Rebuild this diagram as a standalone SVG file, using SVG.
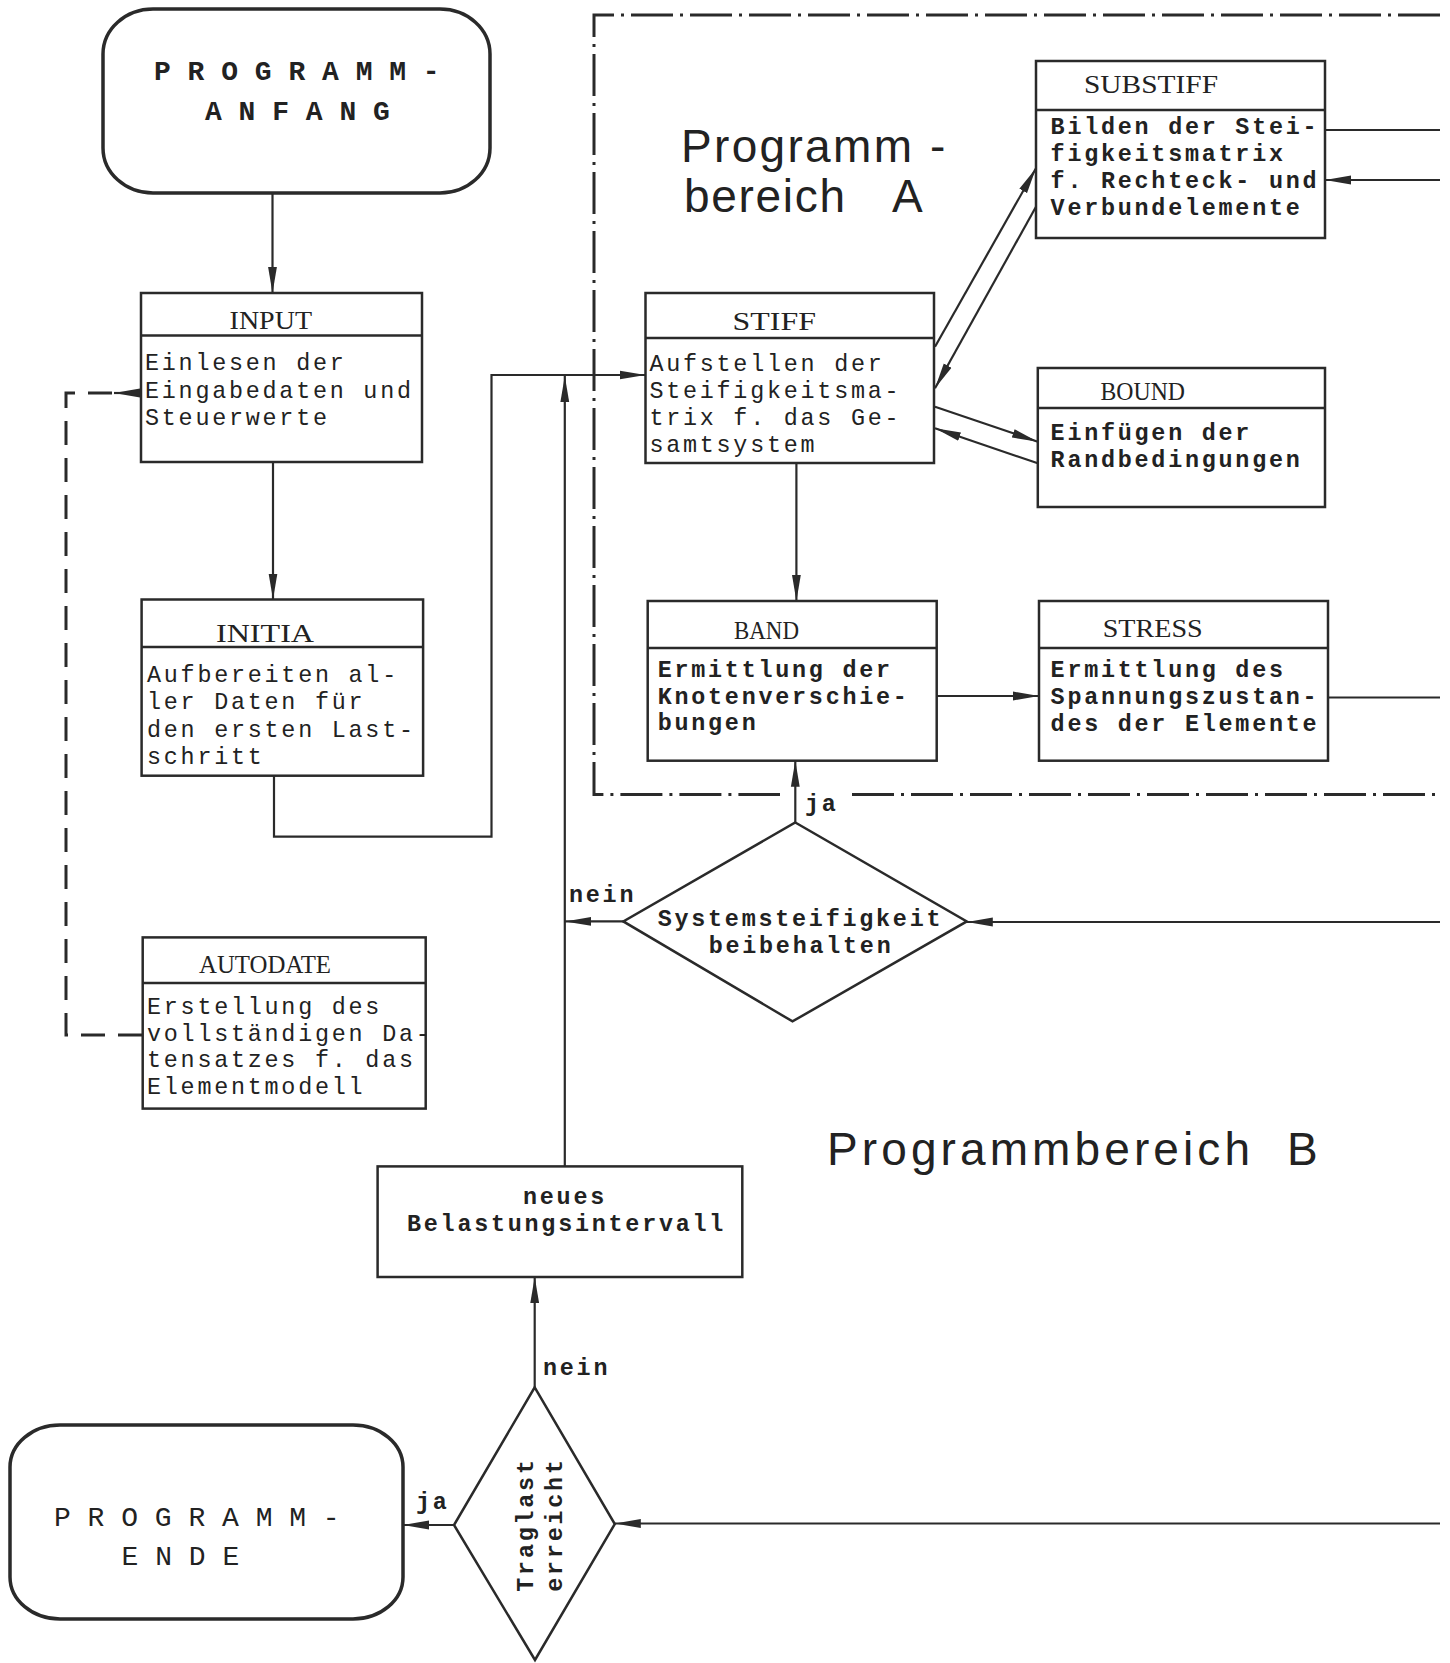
<svg xmlns="http://www.w3.org/2000/svg" width="1450" height="1663" viewBox="0 0 1450 1663">
<defs>
<marker id="ah" viewBox="0 0 26 10" refX="26" refY="5" markerWidth="26" markerHeight="10" markerUnits="userSpaceOnUse" orient="auto">
<path d="M0,0.6 L26,5 L0,9.4 Z" fill="#2a2a2a"/>
</marker>
<style>
.box{fill:#fff;stroke:#2a2a2a;stroke-width:2.5}
.term{fill:#fff;stroke:#2a2a2a;stroke-width:3.5}
.div{stroke:#2a2a2a;stroke-width:2.5}
.ln{fill:none;stroke:#2a2a2a;stroke-width:2.2}
.dash{fill:none;stroke:#2a2a2a;stroke-width:3;stroke-dasharray:24 13}
.dd{fill:none;stroke:#2a2a2a;stroke-width:3;stroke-dasharray:42 7 3 7}
.t{font-family:"Liberation Mono","Courier New",monospace;font-size:23.4px;letter-spacing:2.76px;fill:#222}
.tp{font-family:"Liberation Mono","Courier New",monospace;font-size:28px;fill:#222}
.b{font-weight:bold}
.ttl{font-family:"Liberation Serif","Times New Roman",serif;font-size:26px;fill:#222}
.big{font-family:"Liberation Sans",Arial,sans-serif;font-size:46px;fill:#222}
</style>
</defs>
<rect width="1450" height="1663" fill="#fff"/>

<g id="connectors">
<path class="dd" d="M1440,15 H594 V794.6 H780"/>
<path class="dd" d="M852,794.6 H1440"/>
<path class="ln" d="M272.5,193 V293" marker-end="url(#ah)"/>
<path class="ln" d="M273,462 V599.5" marker-end="url(#ah)"/>
<path class="ln" d="M274,775.7 V836.6 H491.5 V375 H645.5" marker-end="url(#ah)"/>
<path class="ln" d="M564.8,1166.4 V376" marker-end="url(#ah)"/>
<path class="dash" d="M112,393 H66 V1035 H142.7"/>
<path class="ln" d="M141,393 H114" marker-end="url(#ah)"/>
<path class="ln" d="M935,346.7 L1036,168.3" marker-end="url(#ah)"/>
<path class="ln" d="M1036,206.7 L935,388.3" marker-end="url(#ah)"/>
<path class="ln" d="M935,406.7 L1037.8,441.7" marker-end="url(#ah)"/>
<path class="ln" d="M1037.8,463.3 L935,428.3" marker-end="url(#ah)"/>
<path class="ln" d="M1325,130 H1440"/>
<path class="ln" d="M1440,180 H1325" marker-end="url(#ah)"/>
<path class="ln" d="M796.4,463 V601" marker-end="url(#ah)"/>
<path class="ln" d="M936.8,696 H1039" marker-end="url(#ah)"/>
<path class="ln" d="M1328,697.5 H1440"/>
<path class="ln" d="M795.3,822.5 V760.7" marker-end="url(#ah)"/>
<path class="ln" d="M623.3,921.4 H565" marker-end="url(#ah)"/>
<path class="ln" d="M1440,922 H966.8" marker-end="url(#ah)"/>
<path class="ln" d="M534.7,1387.3 V1277" marker-end="url(#ah)"/>
<path class="ln" d="M454,1525 H403" marker-end="url(#ah)"/>
<path class="ln" d="M1440,1523.5 H614.8" marker-end="url(#ah)"/>
<text class="t b" x="805" y="811">ja</text>
<text class="t b" x="569" y="902">nein</text>
<text class="t b" x="543" y="1375">nein</text>
<text class="t b" x="416" y="1509">ja</text>
</g>

<g id="label-bereich-a">
<text class="big" y="162"><tspan x="681" textLength="231" lengthAdjust="spacing">Programm</tspan> <tspan x="930">-</tspan></text>
<text class="big" y="212"><tspan x="684" textLength="161" lengthAdjust="spacing">bereich</tspan> <tspan x="892">A</tspan></text>
</g>
<g id="label-bereich-b">
<text class="big" y="1165"><tspan x="827" textLength="423" lengthAdjust="spacing">Programmbereich</tspan> <tspan x="1287">B</tspan></text>
</g>

<g id="anfang">
<rect class="term" x="103" y="9" width="387" height="184" rx="50" ry="45"/>
<text class="tp b" x="154" y="80">P R O G R A M M -</text>
<text class="tp b" x="205" y="120">A N F A N G</text>
</g>

<g id="input">
<rect class="box" x="141" y="293" width="281" height="169"/>
<line class="div" x1="141" y1="335.5" x2="422" y2="335.5"/>
<text class="ttl" x="229.6" y="329" textLength="82.4" lengthAdjust="spacingAndGlyphs">INPUT</text>
<text class="t" x="145" y="370">Einlesen der</text>
<text class="t" x="145" y="397.5">Eingabedaten und</text>
<text class="t" x="145" y="424.5">Steuerwerte</text>
</g>

<g id="initia">
<rect class="box" x="141.6" y="599.5" width="281.5" height="176.2"/>
<line class="div" x1="141.6" y1="647" x2="423.1" y2="647"/>
<text class="ttl" x="216" y="642" textLength="98" lengthAdjust="spacingAndGlyphs">INITIA</text>
<text class="t" x="147" y="682">Aufbereiten al-</text>
<text class="t" x="147" y="709">ler Daten für</text>
<text class="t" x="147" y="737">den ersten Last-</text>
<text class="t" x="147" y="764">schritt</text>
</g>

<g id="autodate">
<rect class="box" x="142.7" y="937.4" width="283" height="171.2"/>
<line class="div" x1="142.7" y1="983" x2="425.7" y2="983"/>
<text class="ttl" x="199" y="973" textLength="132" lengthAdjust="spacingAndGlyphs">AUTODATE</text>
<text class="t" x="147" y="1014">Erstellung des</text>
<text class="t" x="147" y="1040.7">vollständigen Da-</text>
<text class="t" x="147" y="1067.3">tensatzes f. das</text>
<text class="t" x="147" y="1094">Elementmodell</text>
</g>

<g id="stiff">
<rect class="box" x="645.5" y="293" width="288.5" height="170"/>
<line class="div" x1="645.5" y1="338" x2="934" y2="338"/>
<text class="ttl" x="732.6" y="330" textLength="83.4" lengthAdjust="spacingAndGlyphs">STIFF</text>
<text class="t" x="649.4" y="371">Aufstellen der</text>
<text class="t" x="649.4" y="398">Steifigkeitsma-</text>
<text class="t" x="649.4" y="425">trix f. das Ge-</text>
<text class="t" x="649.4" y="452">samtsystem</text>
</g>

<g id="substiff">
<rect class="box" x="1036" y="61" width="289" height="177"/>
<line class="div" x1="1036" y1="110" x2="1325" y2="110"/>
<text class="ttl" x="1084" y="93" textLength="134" lengthAdjust="spacingAndGlyphs">SUBSTIFF</text>
<text class="t b" x="1050.6" y="134">Bilden der Stei-</text>
<text class="t b" x="1050.6" y="161">figkeitsmatrix</text>
<text class="t b" x="1050.6" y="188">f. Rechteck- und</text>
<text class="t b" x="1050.6" y="215">Verbundelemente</text>
</g>

<g id="bound">
<rect class="box" x="1037.8" y="368" width="287.2" height="139"/>
<line class="div" x1="1037.8" y1="408" x2="1325" y2="408"/>
<text class="ttl" x="1100.5" y="400" textLength="84.5" lengthAdjust="spacingAndGlyphs">BOUND</text>
<text class="t b" x="1050.6" y="440">Einfügen der</text>
<text class="t b" x="1050.6" y="467">Randbedingungen</text>
</g>

<g id="band">
<rect class="box" x="647.7" y="601" width="289" height="159.7"/>
<line class="div" x1="647.7" y1="648" x2="936.7" y2="648"/>
<text class="ttl" x="734" y="638.5" textLength="65" lengthAdjust="spacingAndGlyphs">BAND</text>
<text class="t b" x="657.7" y="677">Ermittlung der</text>
<text class="t b" x="657.7" y="703.7">Knotenverschie-</text>
<text class="t b" x="657.7" y="730.4">bungen</text>
</g>

<g id="stress">
<rect class="box" x="1039" y="601" width="289" height="159.7"/>
<line class="div" x1="1039" y1="648" x2="1328" y2="648"/>
<text class="ttl" x="1102.7" y="636.5" textLength="100" lengthAdjust="spacingAndGlyphs">STRESS</text>
<text class="t b" x="1050.6" y="677">Ermittlung des</text>
<text class="t b" x="1050.6" y="704">Spannungszustan-</text>
<text class="t b" x="1050.6" y="731">des der Elemente</text>
</g>

<g id="systemsteifigkeit">
<polygon class="box" points="795.3,822.5 966.8,921.4 792.5,1021.4 623.3,921.4"/>
<text class="t b" x="657.7" y="925.5">Systemsteifigkeit</text>
<text class="t b" x="708.7" y="953">beibehalten</text>
</g>

<g id="belastungsintervall">
<rect class="box" x="377.6" y="1166.4" width="364.7" height="110.6"/>
<text class="t b" x="523" y="1204">neues</text>
<text class="t b" x="407" y="1231">Belastungsintervall</text>
</g>

<g id="traglast">
<polygon class="box" points="534.7,1387.3 614.8,1524 535,1660 454,1525"/>
<text class="t b" text-anchor="middle" transform="translate(533,1524.5) rotate(-90)">Traglast</text>
<text class="t b" text-anchor="middle" transform="translate(562,1524.5) rotate(-90)">erreicht</text>
</g>

<g id="ende">
<rect class="term" x="10" y="1425" width="393" height="194" rx="50" ry="42"/>
<text class="tp" x="54" y="1525.5">P R O G R A M M -</text>
<text class="tp" x="121.6" y="1565">E N D E</text>
</g>
</svg>
